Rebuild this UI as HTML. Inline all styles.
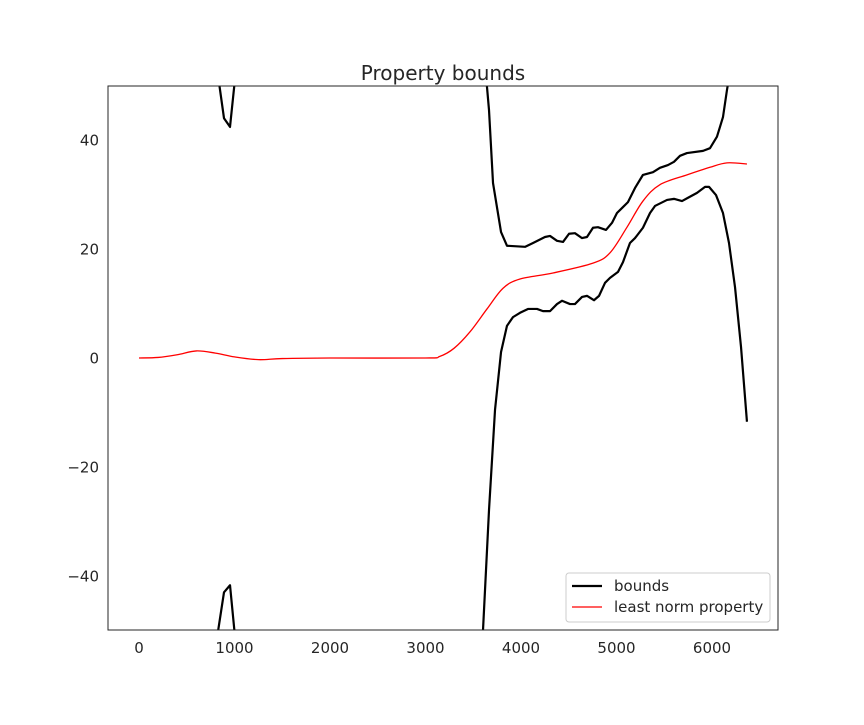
<!DOCTYPE html>
<html><head><meta charset="utf-8"><style>
body{margin:0;background:#fff}
text{font-family:"DejaVu Sans","Liberation Sans",sans-serif;fill:#262626}
</style></head><body>
<svg id="chart" width="864" height="720" xmlns="http://www.w3.org/2000/svg">
<rect width="864" height="720" fill="#fff"/>
<defs><clipPath id="clip"><rect x="108" y="86" width="670" height="544"/></clipPath></defs>
<text x="443" y="80" font-size="20" text-anchor="middle">Property bounds</text>
<g id="xticks"></g>
<g id="yticks"></g>
<g id="series" clip-path="url(#clip)"></g>
<rect x="108" y="86" width="670" height="544" fill="none" stroke="#262626" stroke-width="1"/>
<g>
<rect x="566" y="573" width="204" height="49" rx="3" fill="#fff" stroke="#ccc"/>
<line x1="572" y1="586" x2="602" y2="586" stroke="#000" stroke-width="2.2"/>
<text x="614" y="591" font-size="15">bounds</text>
<line x1="572" y1="607" x2="602" y2="607" stroke="#f00" stroke-width="1.3"/>
<text x="614" y="612" font-size="15">least norm property</text>
</g>
</svg>
<script>
const xTicks=[0,1000,2000,3000,4000,5000,6000];
const yTicks=[-40,-20,0,20,40];
const yTickLabels=["\u221240","\u221220","0","20","40"];
const up1X=[830,890,953,1010];
const up1Y=[51.5,44,42.4,52];
const lo1X=[820,890,953,1010];
const lo1Y=[-51,-43,-41.7,-52];
const up2X=[3623,3644,3665,3707,3791,3853,4042,4126,4251,4304,4377,4440,4503,4565,4639,4691,4754,4806,4890,4953,5005,5068,5120,5194,5277,5382,5455,5539,5602,5665,5738,5906,5979,6052,6115,6157,6178];
const up2Y=[52.8,49.7,45.5,32.1,23.1,20.6,20.4,21.1,22.2,22.4,21.5,21.3,22.8,22.9,22.0,22.2,23.9,24.0,23.5,24.8,26.6,27.7,28.6,31.2,33.6,34.1,34.9,35.4,36.0,37.1,37.6,38.0,38.5,40.6,44.2,49.2,51.4];
const lo2X=[3592,3602,3665,3728,3791,3853,3916,3990,4073,4168,4230,4304,4377,4429,4513,4565,4639,4691,4764,4817,4880,4932,5016,5068,5141,5194,5277,5351,5403,5529,5602,5686,5749,5843,5927,5969,6042,6115,6178,6241,6304,6366];
const lo2Y=[-53.6,-50,-27.9,-9.5,1.1,5.9,7.5,8.3,9.0,9.0,8.6,8.6,9.9,10.5,9.9,9.9,11.2,11.4,10.6,11.4,13.8,14.7,15.8,17.6,21.1,22.0,23.9,26.6,27.9,29.0,29.2,28.8,29.4,30.3,31.4,31.4,29.9,26.6,21.1,13.0,2.0,-11.7];
const lnX=[0,200,400,600,800,1000,1250,1500,2000,3000,3150,3300,3466,3644,3812,3990,4335,4754,4932,5110,5277,5455,5738,5979,6157,6366];
const lnY=[0,0.1,0.6,1.3,0.9,0.2,-0.3,-0.1,0,0,0.3,1.8,4.8,9.0,12.8,14.5,15.6,17.4,19.3,24.0,28.8,31.8,33.6,35.0,35.8,35.6];

const NS="http://www.w3.org/2000/svg";
const sx=v=>139+v*0.0955;
const sy=v=>358-v*5.45;
const xg=document.getElementById('xticks'),yg=document.getElementById('yticks'),sg=document.getElementById('series');
xTicks.forEach(t=>{
  const e=document.createElementNS(NS,'text');
  
  
  e.setAttribute('x',sx(t));e.setAttribute('y',653);e.setAttribute('font-size','15');e.setAttribute('text-anchor','middle');
  e.textContent=String(t);xg.appendChild(e);
});
yTicks.forEach((t,i)=>{
  const e=document.createElementNS(NS,'text');
  
  
  e.setAttribute('x',99);e.setAttribute('y',sy(t)+5.5);e.setAttribute('font-size','15');e.setAttribute('text-anchor','end');
  e.textContent=yTickLabels[i];yg.appendChild(e);
});
function line(xs,ys,color,w,name){
  const p=document.createElementNS(NS,'polyline');
  
  
  p.setAttribute('points',xs.map((x,i)=>sx(x)+','+sy(ys[i])).join(' '));
  p.setAttribute('fill','none');p.setAttribute('stroke',color);p.setAttribute('stroke-width',w);p.setAttribute('stroke-linejoin','round');
  sg.appendChild(p);
}
function smooth(xs,ys,color,w,name){
  const P=xs.map((x,i)=>[sx(x),sy(ys[i])]);
  let d='M'+P[0][0]+','+P[0][1];
  for(let i=0;i<P.length-1;i++){
    const p0=P[Math.max(i-1,0)],p1=P[i],p2=P[i+1],p3=P[Math.min(i+2,P.length-1)];
    const c1=[p1[0]+(p2[0]-p0[0])/6,p1[1]+(p2[1]-p0[1])/6];
    const c2=[p2[0]-(p3[0]-p1[0])/6,p2[1]-(p3[1]-p1[1])/6];
    d+=' C'+c1[0]+','+c1[1]+' '+c2[0]+','+c2[1]+' '+p2[0]+','+p2[1];
  }
  const p=document.createElementNS(NS,'path');
  
  
  p.setAttribute('d',d);p.setAttribute('fill','none');p.setAttribute('stroke',color);p.setAttribute('stroke-width',w);
  sg.appendChild(p);
}
line(up1X,up1Y,'#000',2.2,'upper-bound-segment-1');
line(lo1X,lo1Y,'#000',2.2,'lower-bound-segment-1');
line(up2X,up2Y,'#000',2.2,'upper-bound-segment-2');
line(lo2X,lo2Y,'#000',2.2,'lower-bound-segment-2');
smooth(lnX,lnY,'#f00',1.3,'least-norm-property-line');
</script>
</body></html>
